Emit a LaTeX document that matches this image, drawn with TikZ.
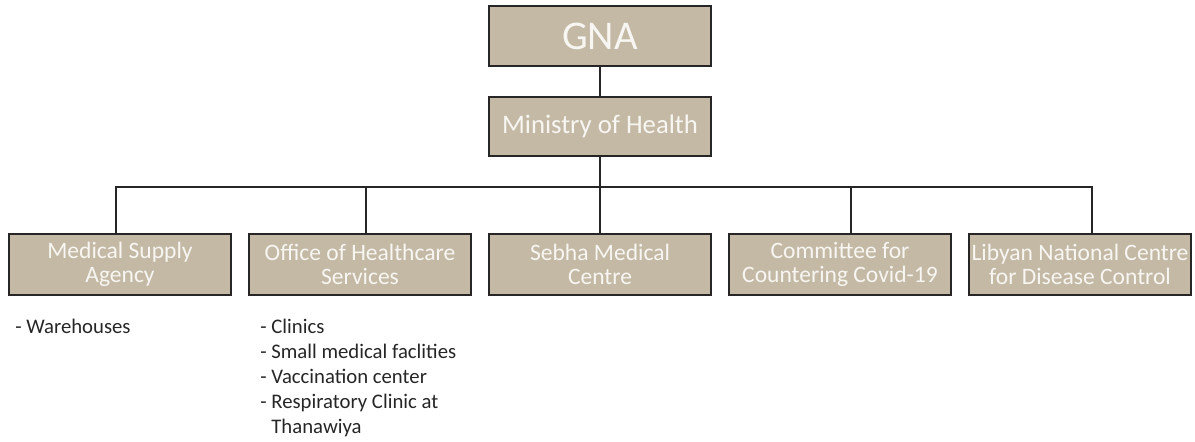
\documentclass[tikz,border=0pt]{standalone}
\usepackage{fontspec}
\setmainfont{Carlito}
\usetikzlibrary{positioning, calc}

\definecolor{orgtan}{RGB}{196,185,165}
\definecolor{orgline}{RGB}{38,38,38}
\definecolor{orgtext}{RGB}{248,246,242}

\begin{document}
\begin{tikzpicture}[
  unit/.style={draw=orgline, line width=1.1pt, fill=orgtan, text=orgtext,
               minimum width=4.44cm, minimum height=1.22cm, inner sep=0pt,
               align=center, font=\fontsize{13.4}{13.8}\selectfont},
  head/.style={unit, minimum height=1.2cm, font=\fontsize{23.2}{24}\selectfont},
  link/.style={draw=orgline, line width=1.1pt},
  items/.style={anchor=north west, inner sep=0pt, align=left, text=black!85,
                font=\fontsize{11.8}{14.2}\selectfont},
]
\useasboundingbox (0,0) rectangle (23.9,8.82);

% Top of the chart
\node[head] (gna) at (12.0,8.1) {GNA};
\node[unit, minimum height=1.18cm, font=\fontsize{15.2}{16}\selectfont] (moh) at (12.0,6.29) {Ministry of Health};

% Bodies under the ministry
\node[unit] (msa) at (2.4,3.53) {Medical Supply\\Agency};
\node[unit] (ohs) at (7.2,3.53) {Office of Healthcare\\Services};
\node[unit] (smc) at (12.0,3.53) {Sebha Medical\\Centre};
\node[unit] (ccc) at (16.8,3.53) {Committee for\\Countering Covid-19};
\node[unit] (ncdc) at (21.6,3.53) {Libyan National Centre\\for Disease Control};

% Lines
\coordinate (bus) at (12.0,5.08);
\draw[link] (gna) -- (moh);
\draw[link] (moh) -- (bus);
\foreach \n/\dx in {msa/-0.08, ohs/0.12, smc/0, ccc/0.22, ncdc/0.24}
  \draw[link] (bus) -| ([xshift=\dx cm]\n.north);

% Facilities
\node[items] (msalist) at (0.3,2.44) {- Warehouses};
\node[items] (ohslist) at (5.2,2.44) {- Clinics\\- Small medical faclities\\- Vaccination center\\- Respiratory Clinic at\\\phantom{- }Thanawiya};

\end{tikzpicture}
\end{document}
